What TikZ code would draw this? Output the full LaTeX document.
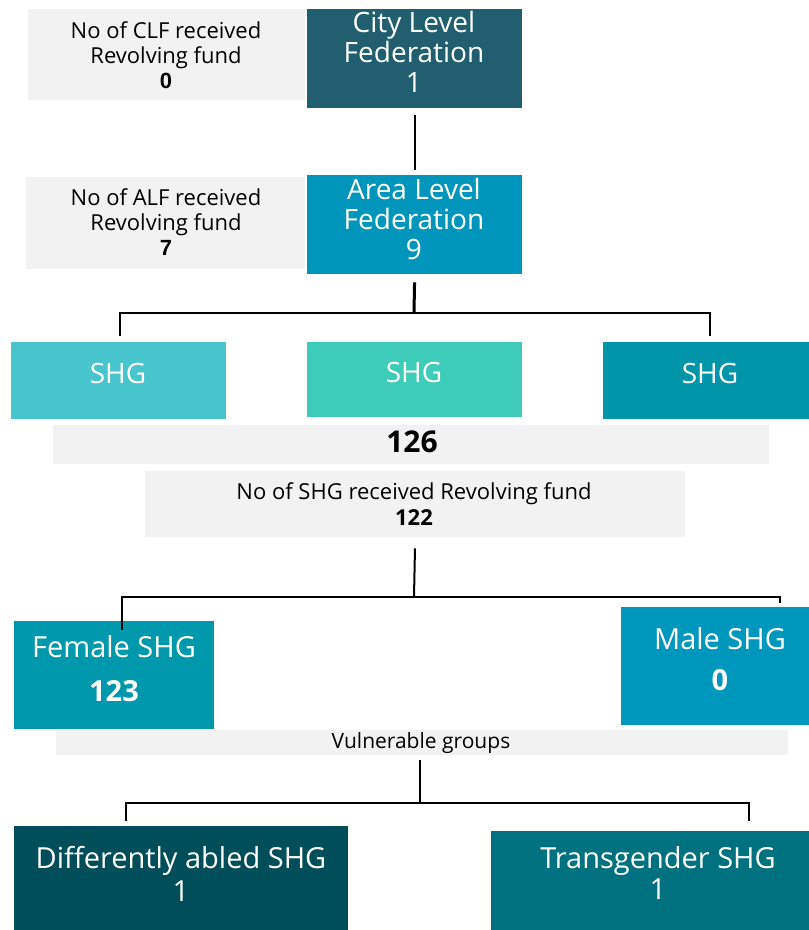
\documentclass[tikz,border=0pt]{standalone}
\usepackage{fontspec}
\setmainfont{Open Sans}
\newfontfamily\arialfont{Liberation Sans}
\definecolor{graybg}{HTML}{F2F2F2}
\definecolor{cclf}{HTML}{215E6F}
\definecolor{calf}{HTML}{0096BB}
\definecolor{cshga}{HTML}{47C4CC}
\definecolor{cshgb}{HTML}{3DCBBA}
\definecolor{cshgc}{HTML}{0095A8}
\definecolor{cfem}{HTML}{0098AD}
\definecolor{cmale}{HTML}{0097BD}
\definecolor{cdiff}{HTML}{004E5A}
\definecolor{ctrans}{HTML}{00717F}
\begin{document}
\begin{tikzpicture}[x=1pt,y=-1pt,
  gbox/.style={fill=graybg, draw=none, inner sep=0pt, anchor=north west},
  cbox/.style={draw=none, inner sep=0pt, anchor=north west},
  wtxt/.style={text=white, align=center, inner sep=0pt, font=\fontsize{28}{30}\selectfont},
  btxt/.style={text=black, align=center, inner sep=0pt, font=\fontsize{22}{25}\selectfont},
  conn/.style={line width=2pt, draw=black}]
\useasboundingbox (0,0) rectangle (809,930);
% boxes
\node[gbox, minimum width=277, minimum height=91] (g1) at (28,9) {};
\node[cbox, fill=cclf, minimum width=215, minimum height=99] (clf) at (307,9) {};
\node[gbox, minimum width=279, minimum height=92] (g2) at (26,177) {};
\node[cbox, fill=calf, minimum width=215, minimum height=99] (alf) at (307,175) {};
\node[cbox, fill=cshga, minimum width=215, minimum height=77] (shga) at (11,342) {};
\node[cbox, fill=cshgb, minimum width=215, minimum height=75] (shgb) at (307,342) {};
\node[cbox, fill=cshgc, minimum width=206, minimum height=77] (shgc) at (603,342) {};
\node[gbox, minimum width=716, minimum height=39] (g3) at (53,425) {};
\node[gbox, minimum width=540, minimum height=66] (g4) at (145,471) {};
\node[cbox, fill=cfem, minimum width=200, minimum height=108] (fem) at (14,621) {};
\node[cbox, fill=cmale, minimum width=188, minimum height=118] (male) at (621,607) {};
\node[gbox, minimum width=732, minimum height=25] (g5) at (56,730) {};
\node[cbox, fill=cdiff, minimum width=334, minimum height=104] (diff) at (14,826) {};
\node[cbox, fill=ctrans, minimum width=318, minimum height=99] (trans) at (491,831) {};
% texts
\node[btxt] (t1) at (166,55) {No of CLF received\\Revolving fund\\{\arialfont\bfseries 0}};
\node[wtxt] (tclf) at (414,52) {City Level\\Federation\\1};
\node[btxt] (t2) at (166,222) {No of ALF received\\Revolving fund\\{\arialfont\bfseries 7}};
\node[wtxt] (talf) at (414,219) {Area Level\\Federation\\9};
\node[wtxt] (tshga) at (118,373) {SHG};
\node[wtxt] (tshgb) at (414,372) {SHG};
\node[wtxt] (tshgc) at (710,373) {SHG};
\node[text=black, inner sep=0pt, font=\fontsize{30}{32}\selectfont\bfseries] (t126) at (412,442) {126};
\node[btxt, font=\fontsize{22}{26}\selectfont] (t122) at (414,504) {No of SHG received Revolving fund\\\textbf{122}};
\node[wtxt, font=\fontsize{29}{44}\selectfont] (tfem) at (114,669) {Female SHG\\\textbf{123}};
\node[wtxt, font=\fontsize{29}{41}\selectfont] (tmale) at (720,659) {Male SHG\\\textbf{0}};
\node[text=black, inner sep=0pt, font=\fontsize{21}{22}\selectfont] (tvul) at (421,743) {Vulnerable groups};
\node[wtxt, font=\fontsize{29}{33}\selectfont] (tdiff) at (181,874) {Differently abled SHG\\1};
\node[wtxt, font=\fontsize{29}{31}\selectfont] (ttrans) at (658,873) {Transgender SHG\\1};
% connectors
\draw[conn, shorten <=7pt, shorten >=5pt] (clf.south) -- (alf.north);
\coordinate (b1) at (414,313);
\draw[line width=3pt, shorten <=8pt] (alf.south) -- (b1);
\draw[conn] ([yshift=6pt]shga.north -| 120,0) -- (120,313) -- (b1) -- (710,313) -- ([yshift=6pt]shgc.north -| 710,0);
\coordinate (b2) at (414,597);
\draw[conn, shorten <=11pt] (g4.south) -- (b2);
\draw[conn] ([yshift=-9pt]fem.north -| 122,0) -- (122,597) -- (b2) -- (780,597) -- ([yshift=4pt]male.north -| 780,0);
\coordinate (b3) at (420,803);
\draw[conn, shorten <=5pt] (g5.south -| b3) -- (b3);
\draw[conn] ([yshift=5pt]diff.north -| 126,0) -- (126,803) -- (b3) -- (749,803) -- ([yshift=10pt]trans.north -| 749,0);
\end{tikzpicture}
\end{document}
